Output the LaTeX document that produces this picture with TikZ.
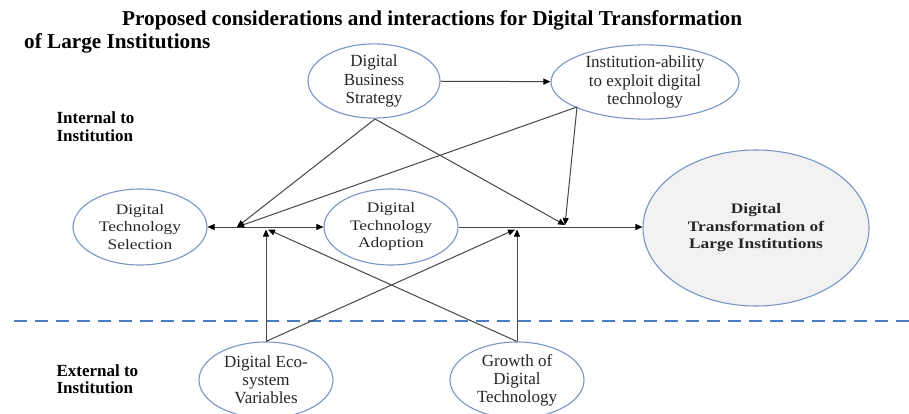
\documentclass[tikz,border=0pt]{standalone}
\usepackage{fontspec}
\setmainfont{Liberation Serif}
\newfontfamily\widefont[FakeStretch=1.2]{Liberation Serif}
\usetikzlibrary{arrows.meta,shapes.geometric}
\definecolor{ellline}{RGB}{120,150,196}
\definecolor{conn}{RGB}{70,70,70}
\definecolor{dashblue}{RGB}{74,124,196}
\definecolor{dtfill}{RGB}{242,242,242}
\tikzset{
  ell/.style={ellipse, draw=ellline, line width=1.1pt, inner sep=0pt, align=center, text=black!85},
  topell/.style={ell, font=\fontsize{17}{18.5}\selectfont},
  midell/.style={ell, font=\widefont\fontsize{14.5}{17.5}\selectfont},
  botell/.style={ell, font=\fontsize{17}{18}\selectfont},
  tip/.tip={Triangle[length=7pt,width=6pt,color=black]},
  conn/.style={draw=conn, line width=1pt, -tip},
  sidelabel/.style={anchor=west, align=left, font=\bfseries\fontsize{17}{17.5}\selectfont},
  titletext/.style={anchor=base west, font=\bfseries\fontsize{21.2}{23}\selectfont, inner sep=0pt}
}
\begin{document}
\begin{tikzpicture}[x=1pt,y=-1pt]
\useasboundingbox (0,0) rectangle (909,414);
\fill[white] (0,0) rectangle (909,414);

% title
\node[titletext] (t1) at (122,26) {Proposed considerations and interactions for Digital Transformation};
\node[titletext] (t2) at (24,49) {of Large Institutions};

% side labels
\node[sidelabel] (internal) at (53,126.5) {Internal to\\Institution};
\node[sidelabel] (external) at (53,379) {External to\\Institution};

% dashed divider
\coordinate (dl) at (14,321);
\coordinate (dr) at (909,321);
\draw[dashblue, line width=2.6pt, dash pattern=on 13pt off 8pt] (dl) -- (dr);

% ellipses
\node[topell, minimum width=132pt, minimum height=72pt] (dbs) at (374,81) {Digital\\Business\\Strategy};
\node[topell, minimum width=188pt, minimum height=70pt] (inst) at (645,82) {Institution-ability\\to exploit digital\\technology};
\node[midell, minimum width=134pt, minimum height=76pt] (sel) at (140,227) {Digital\\Technology\\Selection};
\node[midell, minimum width=134pt, minimum height=76pt] (adop) at (391,227) {Digital\\Technology\\Adoption};
\node[midell, fill=dtfill, font=\widefont\bfseries\fontsize{14.5}{17.5}\selectfont, minimum width=226pt, minimum height=156pt] (dt) at (756,228) {Digital\\Transformation of\\Large Institutions};
\node[botell, minimum width=134pt, minimum height=76pt] (eco) at (266,380) {Digital Eco-\\system\\Variables};
\node[botell, minimum width=134pt, minimum height=76pt] (grow) at (517,380) {Growth of\\Digital\\Technology};

% junction points
\coordinate (j1) at (237,227);
\coordinate (j2) at (268,229.5);
\coordinate (j3) at (515,229.5);
\coordinate (j4) at (565,225);
\coordinate (dbsb) at (375,119);
\coordinate (instb) at (577,107);

% connectors
\draw[conn] (dbs) -- (inst);
\draw[conn, tip-tip] (sel.east) -- (adop.west);
\draw[conn] (adop.east) -- (dt.west |- adop.east);
\draw[conn] (dbsb) -- (j1);
\draw[conn] (dbsb) -- (j4);
\draw[conn] (instb) -- (j1);
\draw[conn] (instb) -- (j4);
\draw[conn] (eco.north) -- (eco.north |- j2);
\draw[conn] (eco.north) -- (j3);
\draw[conn] (grow.north) -- (grow.north |- j3);
\draw[conn] (grow.north) -- (j2);
\end{tikzpicture}
\end{document}
